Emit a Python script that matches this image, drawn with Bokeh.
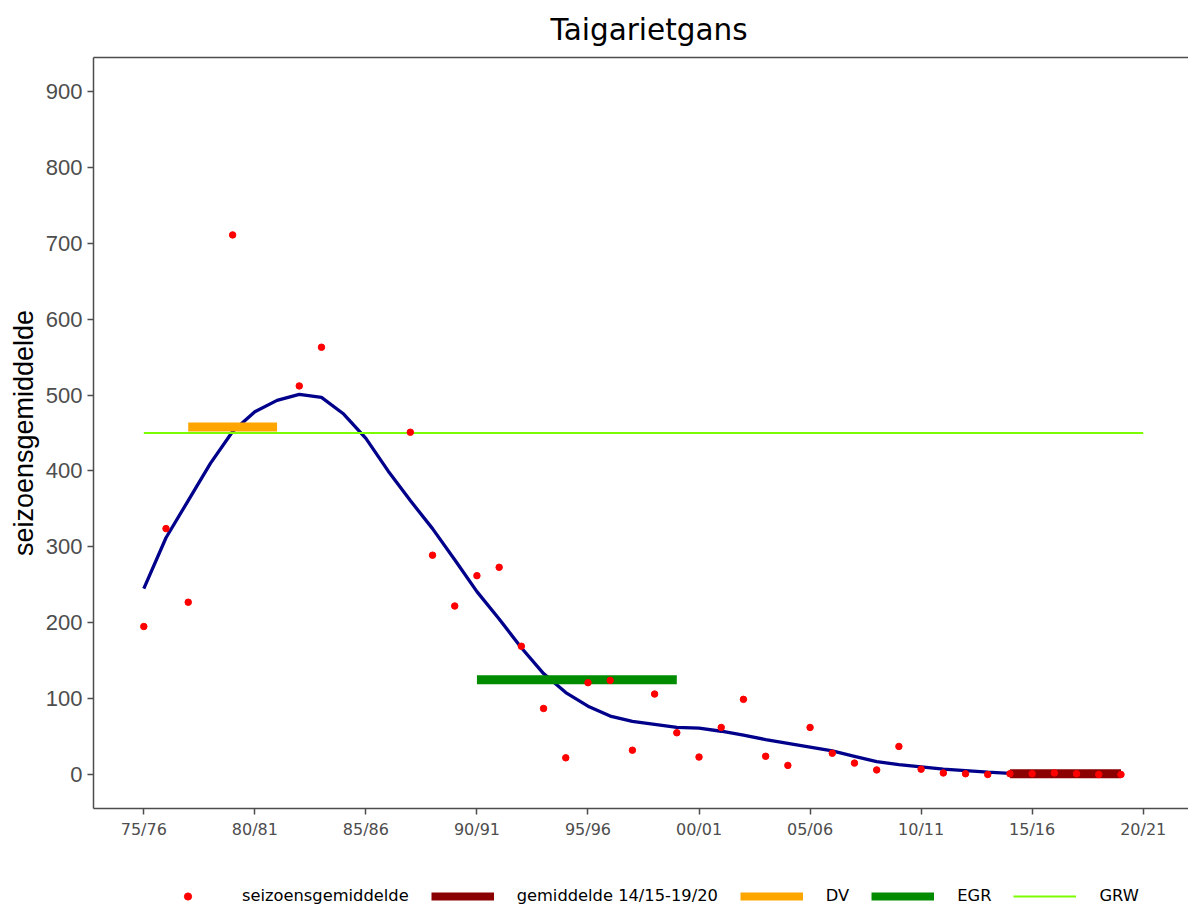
from bokeh.plotting import figure
from bokeh.layouts import column
from bokeh.models import Range1d, FixedTicker, Legend, LegendItem, LinearAxis
from bokeh.embed import file_html
from bokeh.resources import INLINE

# ---- data ----
seasons = list(range(1975, 2020))
season_mean = [195, 324, 227, None, 711, None, None, 512, 563, None,
               None, None, 451, 289, 222, 262, 273, 169, 87, 22,
               121, 124, 32, 106, 55, 23, 62, 99, 24, 12,
               62, 28, 15, 6, 37, 7, 2, 1, 0, 1,
               1, 2, 1, 0, 0]
smooth = [245, 312, 361, 410, 452, 478, 493, 501, 497, 475,
          443, 400, 361, 324, 283, 241, 205, 167, 133, 108,
          90, 77, 70, 66, 62, 61, 57, 52, 46, 41,
          36, 31, 24, 17, 13, 10, 7, 5, 3, 1.5,
          1, 0.5, 0.3, 0.2, 0.1]
tick_years = [1975, 1980, 1985, 1990, 1995, 2000, 2005, 2010, 2015, 2020]
tick_labels = ["75/76", "80/81", "85/86", "90/91", "95/96",
               "00/01", "05/06", "10/11", "15/16", "20/21"]
y_ticks = [0, 100, 200, 300, 400, 500, 600, 700, 800, 900]
grw_level = 450
grw_span = [1975, 2020]
dv_level = 458
dv_span = [1977, 1981]
egr_level = 125
egr_span = [1990, 1999]
recent_span = [2014, 2019]
recent_vals = [v for s, v in zip(seasons, season_mean) if recent_span[0] <= s <= recent_span[1]]
recent_level = sum(recent_vals) / len(recent_vals)
legend_labels = ["seizoensgemiddelde", "gemiddelde 14/15-19/20", "DV", "EGR", "GRW"]

xs_pts = [s for s, v in zip(seasons, season_mean) if v is not None]
ys_pts = [v for v in season_mean if v is not None]

AX = "#4d4d4d"
C_SMOOTH = "#00008B"
C_DV = "#FFA500"
C_EGR = "#008B00"
C_GRW = "#7CFC00"
C_RECENT = "#8B0000"
C_PTS = "#FF0000"

p = figure(width=1188, height=878, output_backend="svg", toolbar_location=None,
           x_range=Range1d(1972.735, 2022.04), y_range=Range1d(-44.8, 944.8),
           min_border_left=93, min_border_right=0, min_border_top=57, min_border_bottom=70)
p.outline_line_color = None
p.xgrid.visible = False
p.ygrid.visible = False
p.background_fill_color = "white"
p.border_fill_color = "white"

# title
p.title.text = "Taigarietgans"
p.title.align = "left"
p.title.offset = 457
p.title.text_font = "DejaVu Sans"
p.title.text_font_size = "29.5px"
p.title.text_font_style = "normal"
p.title.text_color = "black"
p.title.standoff = 21

# axes
xa = p.xaxis[0]
xa.ticker = FixedTicker(ticks=tick_years)
xa.major_label_overrides = {y: l for y, l in zip(tick_years, tick_labels)}
xa.major_label_text_font = "DejaVu Sans"
xa.major_label_text_font_size = "16px"
xa.major_label_text_color = AX
xa.major_tick_out = 6
xa.major_tick_in = 0
xa.minor_tick_line_color = None
xa.axis_line_color = AX
xa.axis_line_width = 1.5
xa.major_tick_line_color = AX
xa.major_tick_line_width = 1.5
xa.major_label_standoff = 5

ya = p.yaxis[0]
ya.ticker = FixedTicker(ticks=y_ticks)
ya.major_label_text_font = "Liberation Sans"
ya.major_label_text_font_size = "22px"
ya.major_label_text_color = AX
ya.major_tick_out = 6
ya.major_tick_in = 0
ya.minor_tick_line_color = None
ya.axis_line_color = AX
ya.axis_line_width = 1.5
ya.major_tick_line_color = AX
ya.major_tick_line_width = 1.5
ya.major_label_standoff = 5
ya.axis_label = "seizoensgemiddelde"
ya.axis_label_text_font = "Liberation Sans"
ya.axis_label_text_font_size = "27px"
ya.axis_label_text_font_style = "normal"
ya.axis_label_text_color = "black"
ya.axis_label_standoff = 4

top = LinearAxis(ticker=FixedTicker(ticks=[]), major_label_text_font_size="0px",
                 major_tick_line_color=None, minor_tick_line_color=None,
                 major_tick_out=0, major_tick_in=0, minor_tick_out=0, minor_tick_in=0,
                 axis_line_color=AX, axis_line_width=1.5, major_label_standoff=0)
p.add_layout(top, "above")

# glyphs
p.line(seasons, smooth, line_color=C_SMOOTH, line_width=3.3)
p.line(dv_span, [dv_level, dv_level], line_color=C_DV, line_width=9, line_cap="butt")
p.line(egr_span, [egr_level, egr_level], line_color=C_EGR, line_width=9, line_cap="butt")
p.line(grw_span, [grw_level, grw_level], line_color=C_GRW, line_width=2)
p.line(recent_span, [recent_level, recent_level], line_color=C_RECENT, line_width=9, line_cap="butt")
p.scatter(xs_pts, ys_pts, size=6.5, fill_color=C_PTS, line_color=C_PTS)

# legend strip (separate figure below the chart); key glyphs sit outside its visible range
q = figure(width=1188, height=28, output_backend="svg", toolbar_location=None,
           x_range=Range1d(0, 1), y_range=Range1d(0, 1),
           x_axis_location=None, y_axis_location=None,
           min_border_left=0, min_border_right=0, min_border_top=0, min_border_bottom=0)
q.outline_line_color = None
q.xgrid.visible = False
q.ygrid.visible = False
q.border_fill_color = "white"
hx, hy = [-10, -9], [-10, -10]
k_pts = q.scatter(hx, hy, size=6.5, fill_color=C_PTS, line_color=C_PTS)
k_recent = q.line(hx, hy, line_color=C_RECENT, line_width=8, line_cap="butt")
k_dv = q.line(hx, hy, line_color=C_DV, line_width=8, line_cap="butt")
k_egr = q.line(hx, hy, line_color=C_EGR, line_width=8, line_cap="butt")
k_grw = q.line(hx, hy, line_color=C_GRW, line_width=2)

legend = Legend(items=[LegendItem(label=l, renderers=[r]) for l, r in
                       zip(legend_labels, [k_pts, k_recent, k_dv, k_egr, k_grw])],
                orientation="horizontal", location=(63, 1))
legend.glyph_width = 63
legend.glyph_height = 18
legend.label_standoff = 23
legend.spacing = 22
legend.padding = 0
legend.margin = 0
legend.border_line_color = None
legend.background_fill_alpha = 0
legend.label_text_font = "DejaVu Sans"
legend.label_text_font_size = "16.3px"
legend.label_text_color = "black"
legend.label_height = 18
q.add_layout(legend, "center")

layout = column(p, q, spacing=0)
open("out.html", "w").write(file_html(layout, INLINE))
